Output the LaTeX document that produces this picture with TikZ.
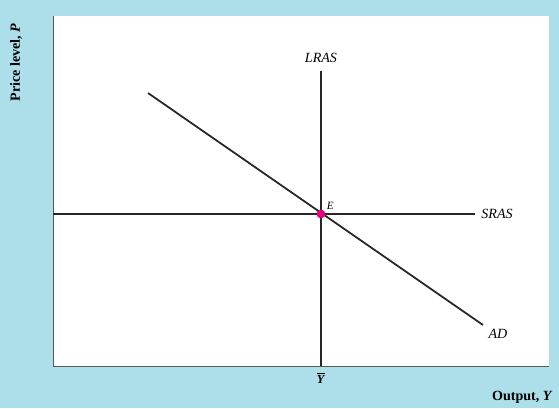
\documentclass[tikz,border=0pt]{standalone}
\usepackage{fontspec}
\setmainfont{Liberation Serif}
\usetikzlibrary{positioning}
\definecolor{panelblue}{HTML}{ADDFEA}
\definecolor{eqpink}{HTML}{E5007D}
\begin{document}
\begin{tikzpicture}[
    x=0.03cm, y=-0.03cm,
    curve/.style={line width=1.5pt, draw=black!85},
    axis/.style={line width=0.7pt, draw=black!65},
    lbl/.style={font=\fontsize{12}{14}\selectfont\itshape, inner sep=1pt},
    axlbl/.style={font=\fontsize{12}{14}\selectfont\bfseries, inner sep=1pt}
]
    % background and plotting area
    \fill[panelblue] (0,0) rectangle (559,408);
    \fill[white] (53,16) rectangle (549,366);
    \coordinate (ytop) at (53,16);
    \coordinate (origin) at (53,366);
    \coordinate (xend) at (549,366);
    \draw[axis] (ytop) -- (origin) -- (xend);

    % curves
    \coordinate (lrastop) at (321,71);
    \coordinate (lrasbot) at (321,366);
    \coordinate (srasleft) at (53,214);
    \coordinate (srasright) at (475,214);
    \coordinate (adtop) at (148,93);
    \coordinate (adbot) at (483,325);
    \draw[curve] (lrastop) -- (lrasbot);
    \draw[curve] (srasleft) -- (srasright);
    \draw[curve] (adtop) -- (adbot);

    \node[circle, fill=eqpink, inner sep=0pt, minimum size=7.5pt] (E) at (321,214) {};
    \node[lbl, font=\fontsize{9.5}{10}\selectfont\itshape, above right=0pt and 1pt of E] (elbl) {E};

    \node[lbl] (lras) at (321,58) {LRAS};
    \node[lbl] (sras) at (497,214) {SRAS};
    \node[lbl] (ad) at (498,334) {AD};

    % axis labels
    \node[axlbl, font=\fontsize{10.5}{12}\selectfont\bfseries] (ybar) at (321,378) {$\overline{\mbox{\textit{Y}}}$};
    \node[axlbl, anchor=east] (xlbl) at (554,397) {Output, \textit{Y}};
    \node[axlbl, rotate=90, anchor=east] (ylbl) at (16,22) {Price level, \textit{P}};
\end{tikzpicture}
\end{document}
